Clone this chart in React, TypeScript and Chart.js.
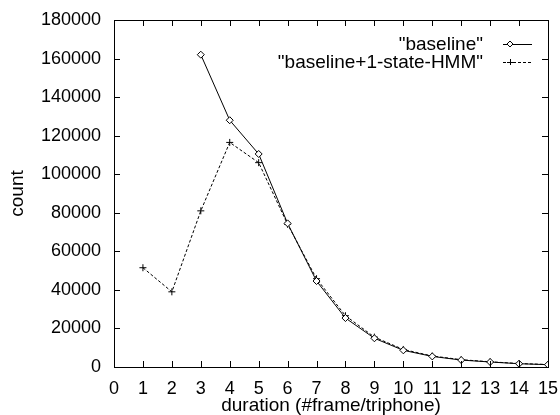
import React, { useEffect, useRef } from "react";
import { Chart, registerables } from "chart.js";

Chart.register(...registerables);

const FONT = "'Liberation Sans', Arial, Helvetica, sans-serif";

// duration (#frame/triphone)
const durations = [1, 2, 3, 4, 5, 6, 7, 8, 9, 10, 11, 12, 13, 14, 15];
// "baseline" (no data for durations 1 and 2)
const baselineCounts = [null, null, 162000, 128000, 110500, 74500, 44600, 25400, 14900, 8650, 5500, 3600, 2600, 1700, 1200];
// "baseline+1-state-HMM"
const hmmCounts = [51500, 39000, 81000, 116500, 106000, 74000, 45800, 26600, 15500, 9100, 5700, 3800, 2700, 1800, 1300];

const seriesLabels = ['"baseline"', '"baseline+1-state-HMM"'];
const xMin = 0;
const xMax = 15;
const yMin = 0;
const yMax = 180000;
const yStep = 20000;

function toPoints(values: (number | null)[]) {
  const pts: { x: number; y: number }[] = [];
  values.forEach((v, i) => {
    if (v !== null) pts.push({ x: durations[i], y: v });
  });
  return pts;
}

const framePlugin = {
  id: "gnuFrame",
  afterDraw(chart: any) {
    const { ctx, chartArea } = chart;
    const { left, right, top, bottom } = chartArea;
    const xs = chart.scales.x;
    const ys = chart.scales.y;
    const tl = 6;
    ctx.save();
    ctx.strokeStyle = "#000";
    ctx.lineWidth = 1;
    ctx.setLineDash([]);
    ctx.beginPath();
    xs.ticks.forEach((t: any) => {
      if (t.value <= xMin || t.value >= xMax) return;
      const px = Math.round(xs.getPixelForValue(t.value)) + 0.5;
      ctx.moveTo(px, bottom);
      ctx.lineTo(px, bottom - tl);
      ctx.moveTo(px, top);
      ctx.lineTo(px, top + tl);
    });
    ys.ticks.forEach((t: any) => {
      if (t.value <= yMin || t.value >= yMax) return;
      const py = Math.round(ys.getPixelForValue(t.value)) + 0.5;
      ctx.moveTo(left, py);
      ctx.lineTo(left + tl, py);
      ctx.moveTo(right, py);
      ctx.lineTo(right - tl, py);
    });
    ctx.stroke();
    ctx.strokeRect(Math.round(left) + 0.5, Math.round(top) + 0.5, Math.round(right - left), Math.round(bottom - top));

    // legend (gnuplot style: right-aligned text, sample to the right)
    ctx.font = `19px ${FONT}`;
    ctx.fillStyle = "#000";
    ctx.textAlign = "right";
    ctx.textBaseline = "middle";
    const textRight = right - 65;
    const lineStart = right - 45;
    const lineEnd = right - 16;
    const markX = right - 38;
    seriesLabels.forEach((label, i) => {
      const y = top + 24 + i * 18;
      ctx.fillText(label, textRight, y + 1);
      ctx.beginPath();
      ctx.setLineDash(i === 0 ? [] : [3, 2]);
      ctx.moveTo(lineStart, y + 0.5);
      ctx.lineTo(lineEnd, y + 0.5);
      ctx.stroke();
      ctx.setLineDash([]);
      ctx.beginPath();
      if (i === 0) {
        ctx.moveTo(markX, y - 3);
        ctx.lineTo(markX + 3, y);
        ctx.lineTo(markX, y + 3);
        ctx.lineTo(markX - 3, y);
        ctx.closePath();
        ctx.fillStyle = "#fff";
        ctx.fill();
        ctx.stroke();
        ctx.fillStyle = "#000";
      } else {
        ctx.moveTo(markX - 3, y + 0.5);
        ctx.lineTo(markX + 3, y + 0.5);
        ctx.moveTo(markX + 0.5, y - 3);
        ctx.lineTo(markX + 0.5, y + 3);
        ctx.stroke();
      }
    });
    ctx.restore();
  },
};

export default function App() {
  const ref = useRef<HTMLCanvasElement | null>(null);
  useEffect(() => {
    if (!ref.current) return;
    const chart = new Chart(ref.current, {
      type: "line",
      data: {
        datasets: [
          {
            label: seriesLabels[0],
            data: toPoints(baselineCounts),
            borderColor: "#000",
            borderWidth: 1,
            backgroundColor: "#fff",
            pointStyle: "rectRot",
            pointRadius: 3.5,
            pointBorderColor: "#000",
            pointBackgroundColor: "#fff",
            pointBorderWidth: 1,
            tension: 0,
          },
          {
            label: seriesLabels[1],
            data: toPoints(hmmCounts),
            borderColor: "#000",
            borderWidth: 1,
            borderDash: [3, 2],
            pointStyle: "cross",
            pointRadius: 3.5,
            pointBorderColor: "#000",
            pointBorderWidth: 1,
            tension: 0,
          },
        ],
      },
      options: {
        animation: false,
        responsive: false,
        devicePixelRatio: 1,
        layout: { padding: { top: 20, right: 12, left: 0, bottom: 0 } },
        plugins: {
          legend: { display: false },
          tooltip: { enabled: false },
        },
        scales: {
          x: {
            type: "linear",
            min: xMin,
            max: xMax,
            afterFit: (s: any) => {
              s.height = 48;
              s.paddingLeft = 0;
              s.paddingRight = 0;
            },
            ticks: {
              stepSize: 1,
              color: "#000",
              padding: 11,
              font: { family: FONT, size: 18 },
              maxRotation: 0,
              autoSkip: false,
            },
            grid: { display: false, drawTicks: false },
            border: { display: false },
            title: {
              display: true,
              text: "duration (#frame/triphone)",
              color: "#000",
              font: { family: FONT, size: 19 },
              padding: { top: 0, bottom: -2 },
            },
          },
          y: {
            min: yMin,
            max: yMax,
            afterFit: (s: any) => {
              s.width = 114;
              s.paddingTop = 0;
              s.paddingBottom = 0;
            },
            ticks: {
              stepSize: yStep,
              color: "#000",
              padding: 13,
              font: { family: FONT, size: 18 },
              callback: (v: any) => String(v),
            },
            grid: { display: false, drawTicks: false },
            border: { display: false },
            title: {
              display: true,
              text: "count",
              color: "#000",
              font: { family: FONT, size: 19 },
              padding: { top: 6, bottom: 0 },
            },
          },
        },
      },
      plugins: [framePlugin],
    });
    return () => chart.destroy();
  }, []);
  return (
    <div style={{ position: "absolute", left: 0, top: 0, width: 560, height: 415, background: "#fff" }}>
      <canvas ref={ref} width={560} height={415} style={{ display: "block" }} />
    </div>
  );
}
